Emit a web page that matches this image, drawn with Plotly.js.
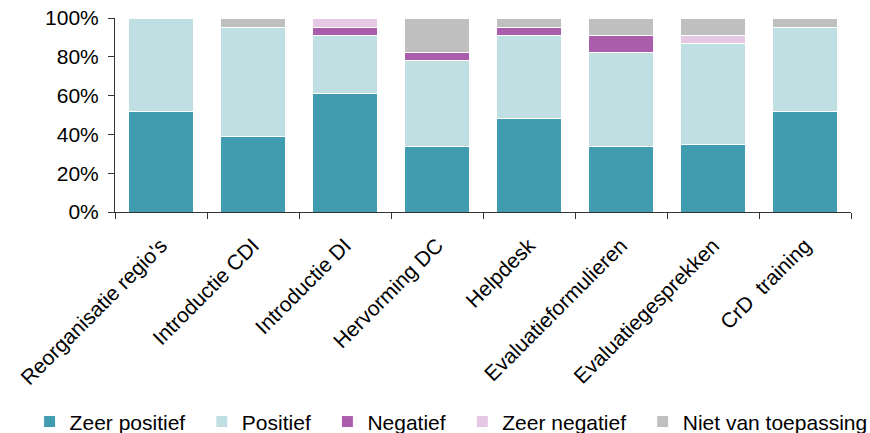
<!DOCTYPE html>
<html>
<head>
<meta charset="utf-8">
<script src="https://cdn.plot.ly/plotly-3.0.1.min.js"></script>
<style>html,body{margin:0;padding:0;background:#fff;}#chart{width:870px;height:433px;}</style>
</head>
<body>
<div id="chart"></div>
<script>
const categories = ["Reorganisatie regio's", "Introductie CDI", "Introductie DI", "Hervorming DC", "Helpdesk", "Evaluatieformulieren", "Evaluatiegesprekken", "CrD  training"];
const zeerPositief   = [52, 39, 61, 34, 48, 34, 35, 52];
const positief       = [48, 56, 30, 44, 43, 48, 52, 43];
const negatief       = [0, 0, 4, 4, 4, 9, 0, 0];
const zeerNegatief   = [0, 0, 5, 0, 0, 0, 4, 0];
const nietVanToepassing = [0, 5, 0, 18, 5, 9, 9, 5];
const seriesNames = ["Zeer positief", "Positief", "Negatief", "Zeer negatief", "Niet van toepassing"];
const seriesColors = ["#409CAE", "#C0DFE3", "#A95DAA", "#E5C8E3", "#BFBFBF"];
const seriesValues = [zeerPositief, positief, negatief, zeerNegatief, nietVanToepassing];
const yTickVals = [0, 20, 40, 60, 80, 100];
const yTickText = ["0%", "20%", "40%", "60%", "80%", "100%"];

const font = "Liberation Sans, Arial, sans-serif";
const pad = "\u00a0\u00a0";
const traces = seriesValues.map((vals, i) => ({
  type: 'bar',
  name: seriesNames[i] + (i < seriesNames.length - 1 ? pad : ''),
  x: categories,
  y: vals,
  marker: {color: seriesColors[i], line: {color: '#ffffff', width: 1}},
  hoverinfo: 'skip'
}));

const layout = {
  width: 870, height: 433,
  margin: {l: 115, r: 19, t: 18, b: 221, autoexpand: false},
  barmode: 'stack',
  bargap: 0.29,
  paper_bgcolor: '#fff', plot_bgcolor: '#fff',
  font: {family: font, size: 21, color: '#000'},
  showlegend: true,
  legend: {
    orientation: 'h', x: -0.116, xanchor: 'left', y: -1.082, yanchor: 'middle',
    font: {family: font, size: 21, color: '#000'}, traceorder: 'normal',
    bgcolor: 'rgba(0,0,0,0)'
  },
  xaxis: {
    type: 'category', tickangle: -45, showgrid: false, zeroline: false, automargin: false,
    showline: true, linecolor: '#333', linewidth: 1,
    ticks: 'outside', ticklen: 6, tickcolor: '#333', tickson: 'boundaries',
    ticklabelstandoff: 12,
    tickfont: {family: font, size: 21, color: '#000'},
    fixedrange: true
  },
  yaxis: {
    range: [0, 100], tickmode: 'array', tickvals: yTickVals, ticktext: yTickText,
    showgrid: false, zeroline: false, automargin: false,
    showline: true, linecolor: '#333', linewidth: 1,
    ticks: 'outside', ticklen: 6, tickcolor: '#333',
    ticklabelstandoff: 5,
    tickfont: {family: font, size: 21, color: '#000'},
    fixedrange: true
  },
  annotations: [{
    text: '<b>Oordeel per groep (n=60)</b>', xref: 'paper', yref: 'paper',
    x: (230 - 115) / 736, y: 1 + 19 / 194, xanchor: 'right', yanchor: 'bottom',
    showarrow: false, font: {family: font, size: 20, color: '#1F3C99'}
  }]
};

Plotly.newPlot('chart', traces, layout, {displayModeBar: false, staticPlot: true});
</script>
</body>
</html>
